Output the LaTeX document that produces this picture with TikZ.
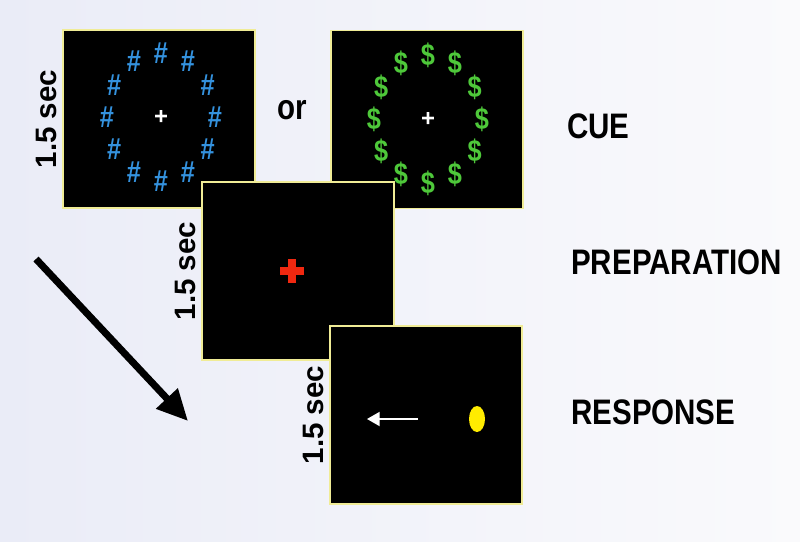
\documentclass[tikz,border=0pt]{standalone}
\usepackage{fontspec}
\setmainfont{Liberation Sans}
\usetikzlibrary{arrows.meta,shapes.geometric}
\definecolor{hashblue}{RGB}{52,146,222}
\definecolor{cashgreen}{RGB}{78,200,58}
\definecolor{cuered}{RGB}{240,40,16}
\definecolor{dotyellow}{RGB}{255,236,0}
\definecolor{framecol}{RGB}{240,236,150}
\definecolor{bgleft}{RGB}{234,236,247}
\definecolor{bgright}{RGB}{250,250,252}
\newcommand{\tall}[1]{\scalebox{1}[1.2]{#1}}

\begin{document}
\begin{tikzpicture}[x=0.025cm, y=-0.025cm,
    screen/.style={draw=framecol, line width=0.8pt, fill=black, minimum width=4.8cm, minimum height=4.45cm, inner sep=0pt},
    timing/.style={rotate=90, anchor=south, font=\bfseries\fontsize{21}{24}\selectfont, inner sep=4pt},
    stage/.style={anchor=west, font=\bfseries\fontsize{21}{24}\selectfont, inner sep=0pt},
    hashmark/.style={text=hashblue, font=\bfseries\fontsize{18}{18}\selectfont, inner sep=0pt},
    cashmark/.style={text=cashgreen, font=\bfseries\fontsize{18}{18}\selectfont, inner sep=0pt},
    fix/.style={text=white, font=\bfseries\fontsize{17}{17}\selectfont, inner sep=0pt}]
    \useasboundingbox (0,0) rectangle (800,541);
    \shade[left color=bgleft, right color=bgright] (0,0) rectangle (800,541);

    % cue screens
    \node [screen, label={[timing]left:1.5 sec}] (cueA) at (159,119) {};
    \node [screen] (cueB) at (427,119.5) {};
    \node [fix] (fixA) at (161,117) {+};
    \node [fix] (fixB) at (428,119) {+};
    \foreach \a in {0,30,...,330} {
        \node [hashmark] at ([shift={(\a:54 and 64)}]fixA.center) {\tall{\#}};
        \node [cashmark] at ([shift={(\a:54 and 64)}]fixB.center) {\tall{\$}};
    }
    \node [font=\bfseries\fontsize{21}{24}\selectfont] (or) at (292,110) {\tall{or}};

    % preparation screen
    \node [screen, label={[timing]left:1.5 sec}] (prep) at (298,271) {};
    \draw [cuered, line width=0.2cm] (280,271) -- (304,271) (292,259) -- (292,283);

    % response screen
    \node [screen, label={[timing]left:1.5 sec}] (resp) at (426,415) {};
    \node [ellipse, fill=dotyellow, minimum width=0.4cm, minimum height=0.65cm, inner sep=0pt] (dot) at (477,419) {};
    \coordinate (pointS) at (418,419);
    \coordinate (pointE) at (367,419);
    \draw [white, line width=1.2pt, -{Triangle[length=9pt,width=10pt]}] (pointS) -- (pointE);

    % stage names
    \node [stage] (cue) at (567,126) {\tall{CUE}};
    \node [stage] (preplbl) at (571,262) {\tall{PREPARATION}};
    \node [stage] (resplbl) at (571,412) {\tall{RESPONSE}};

    % time arrow
    \coordinate (tStart) at (36,259);
    \coordinate (tEnd) at (188,421);
    \draw [line width=5pt, -{Triangle[length=22pt,width=20pt]}] (tStart) -- (tEnd);
\end{tikzpicture}
\end{document}
